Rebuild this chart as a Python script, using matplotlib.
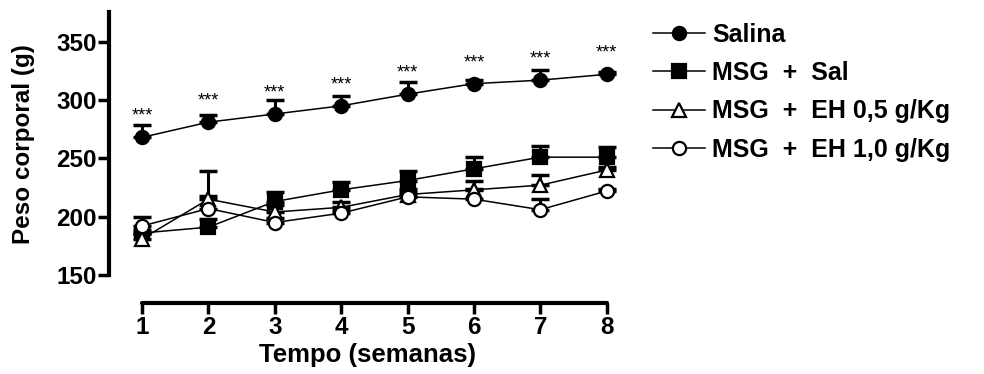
import numpy as np
import matplotlib
matplotlib.use("Agg")
import matplotlib.pyplot as plt

plt.rcParams['font.family'] = ['Liberation Sans', 'DejaVu Sans']

# Data
weeks = [1, 2, 3, 4, 5, 6, 7, 8]

salina = [268, 281, 288, 295, 305, 314, 317, 322]
salina_err = [11, 6, 12, 8, 10, 3, 9, 2]

msg_sal = [186, 191, 213, 223, 231, 241, 251, 251]
msg_sal_err = [3, 7, 8, 7, 8, 10, 10, 9]

msg_eh05 = [181, 215, 204, 208, 219, 223, 227, 240]
msg_eh05_err = [4, 24, 6, 5, 5, 8, 9, 3]

msg_eh10 = [192, 207, 195, 203, 217, 215, 206, 222]
msg_eh10_err = [8, 11, 4, 3, 4, 9, 9, 2]

labels = ["Salina", "MSG  +  Sal", "MSG  +  EH 0,5 g/Kg", "MSG  +  EH 1,0 g/Kg"]

fig = plt.figure(figsize=(9.84, 3.74), dpi=100)
ax = fig.add_axes([0.1106, 0.1898, 0.5262, 0.7768])

series = [
    (salina, salina_err, 'o', 'black'),
    (msg_sal, msg_sal_err, 's', 'black'),
    (msg_eh05, msg_eh05_err, '^', 'white'),
    (msg_eh10, msg_eh10_err, 'o', 'white'),
]

handles = []
for (vals, err, mk, fc), lab in zip(series, labels):
    vals = np.array(vals)
    ax.errorbar(weeks, vals, yerr=[np.zeros(len(vals)), err], fmt='none',
                ecolor='black', elinewidth=2.2, capsize=6.5, capthick=2.5, zorder=2)
    h, = ax.plot(weeks, vals, color='black', lw=1.1, marker=mk, markersize=9.5,
                 markerfacecolor=fc, markeredgecolor='black', markeredgewidth=1.6,
                 label=lab, zorder=3)
    handles.append(h)

# significance stars above Salina
for x, y in zip(weeks, salina):
    ax.text(x, y + 18, "***", ha='center', va='center', fontsize=13)

ax.set_xlim(0.5, 8.3)
ax.set_ylim(126, 375)
ax.set_yticks([150, 200, 250, 300, 350])
ax.set_xticks(weeks)

for s in ['top', 'right']:
    ax.spines[s].set_visible(False)
ax.spines['left'].set_bounds(150, 375)
ax.spines['bottom'].set_bounds(1, 8)
ax.spines['left'].set_linewidth(3)
ax.spines['bottom'].set_linewidth(3)
ax.spines['bottom'].set_capstyle('round')
ax.tick_params(axis='both', width=2.5, length=8, labelsize=17.5)
ax.tick_params(axis='y', pad=0.5)
ax.tick_params(axis='x', pad=1.5)
for t in ax.get_xticklabels() + ax.get_yticklabels():
    t.set_fontweight('bold')

ax.set_ylabel("Peso corporal (g)", fontsize=17.5, fontweight='bold')
ax.yaxis.set_label_coords(-0.142, 0.548)
ax.set_xlabel("Tempo (semanas)", fontsize=18.5, fontweight='bold')
ax.xaxis.set_label_coords(0.5, -0.138)

fig.legend(handles=handles, loc='upper left', bbox_to_anchor=(0.6636, 0.939),
           frameon=False, prop={'weight': 'bold', 'size': 18},
           handlelength=2.08, handletextpad=0.28, labelspacing=0.57,
           borderpad=0, borderaxespad=0)

plt.savefig("out.png", dpi=100)
